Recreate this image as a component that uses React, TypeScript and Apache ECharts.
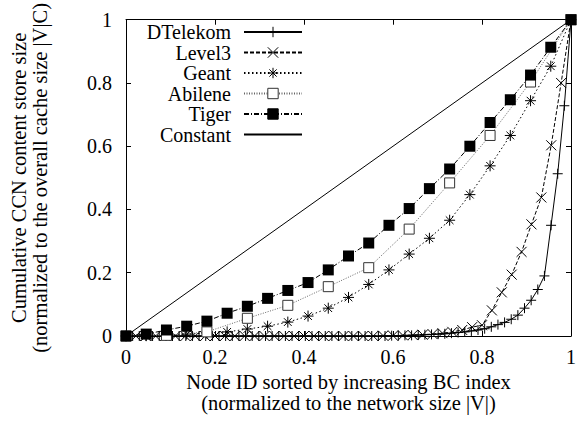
import React, { useEffect, useRef } from "react";
import * as echarts from "echarts";

const FONT = "'Liberation Serif', 'Times New Roman', Times, serif";

const axisTicks = [0, 0.2, 0.4, 0.6, 0.8, 1];

const seriesNames = ["DTelekom", "Level3", "Geant", "Abilene", "Tiger", "Constant"];

const dtelekom = [
  0, 0, 0, 0, 0, 0, 0, 0, 0, 0,
  0, 0, 0, 0, 0, 0, 0, 0, 0, 0,
  0, 0, 0, 0, 0, 0, 0, 0, 0, 0,
  0, 0, 0, 0, 0, 0, 0, 0, 0, 0,
  0.001, 0.001, 0.002, 0.002, 0.003, 0.004, 0.005, 0.006, 0.007, 0.009,
  0.011, 0.013, 0.016, 0.019, 0.023, 0.029, 0.036, 0.043, 0.053, 0.066,
  0.088, 0.113, 0.147, 0.19, 0.35, 0.513, 0.728, 1,
];

const level3 = [
  0, 0, 0, 0, 0, 0, 0, 0, 0, 0,
  0, 0, 0, 0, 0, 0, 0, 0, 0, 0,
  0, 0, 0, 0, 0, 0,
  0.001, 0.001, 0.002, 0.003, 0.004, 0.006, 0.009, 0.013, 0.019, 0.028,
  0.034, 0.081, 0.138, 0.194, 0.266, 0.353, 0.438, 0.603, 0.8, 1,
];

const geant = [
  0, 0.001, 0.003, 0.006, 0.009, 0.013, 0.022, 0.031, 0.044, 0.063,
  0.088, 0.122, 0.163, 0.209, 0.259, 0.309, 0.366, 0.447, 0.538, 0.634,
  0.744, 0.853, 1,
];

const abilene = [0, 0.002, 0.013, 0.056, 0.097, 0.156, 0.216, 0.338, 0.484, 0.634, 0.803, 1];

const tiger = [
  0, 0.006, 0.019, 0.031, 0.047, 0.072, 0.094, 0.119, 0.144, 0.169,
  0.209, 0.253, 0.294, 0.35, 0.403, 0.466, 0.528, 0.6, 0.675, 0.747,
  0.825, 0.913, 1,
];

const constant = [0, 1];

const toPairs = (vals: number[]) => vals.map((v, i) => [i / (vals.length - 1), v]);

const PLUS = "path://M0,5L10,5M5,0L5,10";
const CROSS = "path://M0,0L10,10M10,0L0,10";
const STAR = "path://M0,5L10,5M5,0L5,10M1.5,1.5L8.5,8.5M8.5,1.5L1.5,8.5";

const textBase = { fontFamily: FONT, fontSize: 20, color: "#000" };
const nameText = { fontFamily: FONT, fontSize: 20.5, color: "#000", lineHeight: 21 };

export default function App() {
  const ref = useRef<HTMLDivElement>(null);

  useEffect(() => {
    if (!ref.current) return;
    const chart = echarts.init(ref.current, undefined, { renderer: "svg" });

    const axisCommon = {
      type: "value" as const,
      min: 0,
      max: 1,
      interval: 0.2,
      axisLine: { show: true, onZero: false, lineStyle: { color: "#000", width: 1 } },
      axisTick: { show: true, inside: true, length: 5, lineStyle: { color: "#000", width: 1 } },
      splitLine: { show: false },
    };

    const fmt = (v: number) => {
      const s = String(Math.round(v * 10) / 10);
      return axisTicks.includes(Number(s)) ? s : "";
    };

    const option: any = {
      animation: false,
      backgroundColor: "#fff",
      grid: { left: 122, right: 5, top: 16, bottom: 86, containLabel: false },
      legend: {
        orient: "vertical",
        right: 276,
        top: 22,
        align: "right",
        itemWidth: 58,
        itemHeight: 13,
        itemGap: 0.5,
        padding: 0,
        selectedMode: false,
        formatter: (n: string) => `{t|${n}}`,
        textStyle: {
          ...textBase,
          rich: { t: { ...textBase, padding: [0, 8, 0, 0] } },
        },
        itemStyle: { borderWidth: 1 },
        data: [
          { name: "DTelekom" },
          { name: "Level3" },
          { name: "Geant" },
          { name: "Abilene" },
          { name: "Tiger" },
          { name: "Constant", itemStyle: { opacity: 0 } },
        ],
      },
      xAxis: [
        {
          ...axisCommon,
          position: "bottom",
          axisLabel: { ...textBase, margin: 11, formatter: fmt },
          name: "Node ID sorted by increasing BC index\n(normalized to the network size |V|)",
          nameLocation: "middle",
          nameGap: 35,
          nameTextStyle: nameText,
        },
        { ...axisCommon, position: "top", axisLabel: { show: false } },
      ],
      yAxis: [
        {
          ...axisCommon,
          position: "left",
          axisLabel: { ...textBase, margin: 14, formatter: fmt },
          name: "Cumulative CCN content store size\n(normalized to the overall cache size |V|C)",
          nameLocation: "middle",
          nameGap: 76,
          nameTextStyle: nameText,
        },
        { ...axisCommon, position: "right", axisLabel: { show: false } },
      ],
      series: [
        {
          name: seriesNames[5],
          type: "line",
          data: toPairs(constant),
          symbol: "circle",
          showSymbol: false,
          lineStyle: { color: "#000", width: 1, type: "solid" },
          itemStyle: { color: "#000" },
          z: 1,
        },
        {
          name: seriesNames[0],
          type: "line",
          data: toPairs(dtelekom),
          symbol: PLUS,
          symbolSize: 10,
          lineStyle: { color: "#000", width: 1, type: "solid" },
          itemStyle: { color: "#000", borderColor: "#000", borderWidth: 1 },
          z: 2,
        },
        {
          name: seriesNames[1],
          type: "line",
          data: toPairs(level3),
          symbol: CROSS,
          symbolSize: 10,
          lineStyle: { color: "#000", width: 1, type: [4, 2] },
          itemStyle: { color: "#000", borderColor: "#000", borderWidth: 1 },
          z: 3,
        },
        {
          name: seriesNames[2],
          type: "line",
          data: toPairs(geant),
          symbol: STAR,
          symbolSize: 11,
          lineStyle: { color: "#000", width: 1, type: [1.5, 2.5] },
          itemStyle: { color: "#000", borderColor: "#000", borderWidth: 1 },
          z: 4,
        },
        {
          name: seriesNames[3],
          type: "line",
          data: toPairs(abilene),
          symbol: "rect",
          symbolSize: 10,
          lineStyle: { color: "#666", width: 1, type: [1, 1.5] },
          itemStyle: { color: "#fff", borderColor: "#333", borderWidth: 1 },
          z: 5,
        },
        {
          name: seriesNames[4],
          type: "line",
          data: toPairs(tiger),
          symbol: "rect",
          symbolSize: 11,
          lineStyle: { color: "#000", width: 1, type: [5, 2, 1, 2] },
          itemStyle: { color: "#000", borderColor: "#000", borderWidth: 0 },
          z: 6,
        },
      ],
    };

    chart.setOption(option);
    return () => chart.dispose();
  }, []);

  return (
    <div
      ref={ref}
      style={{ position: "fixed", left: 0, top: 0, width: 579, height: 422, background: "#fff" }}
    />
  );
}
